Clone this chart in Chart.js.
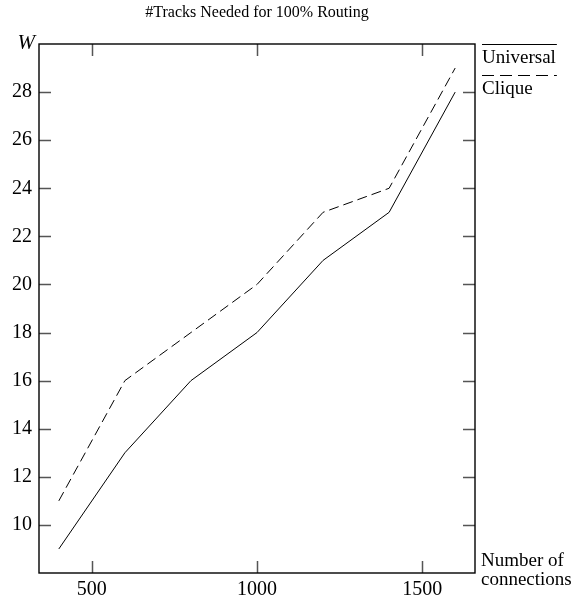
<!DOCTYPE html>
<html>
<head>
<meta charset="utf-8">
<script src="https://cdn.jsdelivr.net/npm/chart.js@4.4.1/dist/chart.umd.min.js"></script>
<style>
  html, body { margin: 0; padding: 0; background: #fff; }
  #wrap { position: relative; width: 574px; height: 601px; }
</style>
</head>
<body>
<div id="wrap"><canvas id="c" width="574" height="601"></canvas></div>
<script>
const connections = [400, 600, 800, 1000, 1200, 1400, 1600];
const universal = [9, 13, 16, 18, 21, 23, 28];
const clique = [11, 16, 18, 20, 23, 24, 29];
const xTicks = [500, 1000, 1500];
const yTicks = [10, 12, 14, 16, 18, 20, 22, 24, 26, 28];
const chartTitle = '#Tracks Needed for 100% Routing';
const yAxisTitle = 'W';
const xAxisTitle = ['Number of', 'connections'];

const FONT = '"Liberation Serif", "Times New Roman", serif';

const framePlugin = {
  id: 'frame',
  afterDraw(chart) {
    const { ctx, chartArea: a, scales } = chart;
    const xs = scales.x, ys = scales.y;
    ctx.save();
    // inward ticks
    ctx.strokeStyle = '#555';
    ctx.lineWidth = 1.5;
    const tl = 12;
    ctx.beginPath();
    xTicks.forEach(v => {
      const px = Math.round(xs.getPixelForValue(v)) + 0.5;
      ctx.moveTo(px, a.bottom); ctx.lineTo(px, a.bottom - tl);
      ctx.moveTo(px, a.top); ctx.lineTo(px, a.top + tl);
    });
    yTicks.forEach(v => {
      const py = Math.round(ys.getPixelForValue(v)) + 0.5;
      ctx.moveTo(a.left, py); ctx.lineTo(a.left + tl, py);
      ctx.moveTo(a.right, py); ctx.lineTo(a.right - tl, py);
    });
    ctx.stroke();
    // frame
    ctx.strokeStyle = '#000';
    ctx.lineWidth = 1.4;
    ctx.strokeRect(a.left, a.top, a.right - a.left, a.bottom - a.top);

    ctx.fillStyle = '#000';
    // title
    ctx.font = '16px ' + FONT;
    ctx.textAlign = 'center';
    ctx.textBaseline = 'middle';
    ctx.fillText(chartTitle, (a.left + a.right) / 2, 13);
    // W
    ctx.font = 'italic 21px ' + FONT;
    ctx.textAlign = 'right';
    ctx.fillText(yAxisTitle, a.left - 4, a.top - 1);
    // x axis title
    ctx.font = '19px ' + FONT;
    ctx.textAlign = 'left';
    ctx.fillText(xAxisTitle[0], a.right + 6, a.bottom - 12);
    ctx.fillText(xAxisTitle[1], a.right + 6, a.bottom + 7);
    // legend
    const lx = a.right + 7;
    ctx.font = '19px ' + FONT;
    const lw = ctx.measureText(chart.data.datasets[0].label).width + 1;
    chart.data.datasets.forEach((ds, i) => {
      const ly = a.top + i * 31;
      ctx.strokeStyle = '#000';
      ctx.lineWidth = 1;
      ctx.setLineDash(i === 0 ? [] : [12, 6]);
      ctx.beginPath();
      ctx.moveTo(lx, ly + 0.5); ctx.lineTo(lx + lw, ly + 0.5);
      ctx.stroke();
      ctx.setLineDash([]);
      ctx.textBaseline = 'middle';
      ctx.fillText(ds.label, lx, ly + 14);
    });
    ctx.restore();
  }
};

new Chart(document.getElementById('c'), {
  type: 'line',
  data: {
    datasets: [
      { label: 'Universal', data: connections.map((x, i) => ({ x, y: universal[i] })),
        borderColor: '#000', borderWidth: 1, pointRadius: 0, tension: 0 },
      { label: 'Clique', data: connections.map((x, i) => ({ x, y: clique[i] })),
        borderColor: '#000', borderWidth: 1, borderDash: [10, 5], pointRadius: 0, tension: 0 }
    ]
  },
  options: {
    responsive: false,
    animation: false,
    devicePixelRatio: 1,
    layout: { padding: { top: 44, right: 99, left: 0, bottom: 0 } },
    plugins: { legend: { display: false }, title: { display: false }, tooltip: { enabled: false } },
    scales: {
      x: {
        type: 'linear', min: 340, max: 1660,
        afterBuildTicks: s => { s.ticks = xTicks.map(v => ({ value: v })); },
        afterFit: s => { s.height = 28; },
        grid: { display: false, drawTicks: false },
        border: { display: false },
        ticks: { color: '#000', font: { family: FONT, size: 20 }, padding: 5, maxRotation: 0,
                 callback: v => String(v) }
      },
      y: {
        type: 'linear', min: 8, max: 30,
        afterBuildTicks: s => { s.ticks = yTicks.map(v => ({ value: v })); },
        afterFit: s => { s.width = 39; },
        grid: { display: false, drawTicks: false },
        border: { display: false },
        ticks: { color: '#000', font: { family: FONT, size: 20 }, padding: 7,
                 callback: v => String(v) }
      }
    }
  },
  plugins: [framePlugin]
});
</script>
</body>
</html>
